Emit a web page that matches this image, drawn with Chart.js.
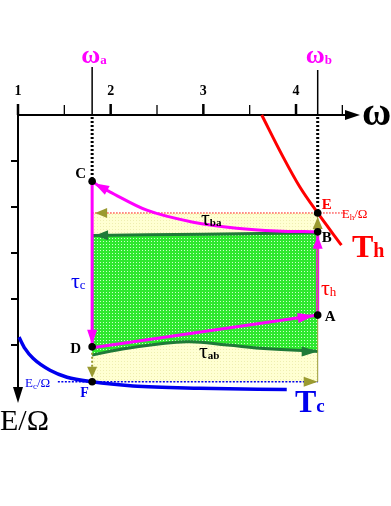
<!DOCTYPE html>
<html>
<head>
<meta charset="utf-8">
<script src="https://cdn.jsdelivr.net/npm/chart.js@4.4.1/dist/chart.umd.min.js"></script>
<style>
  html, body { margin: 0; padding: 0; background: #fff; }
  #wrap { width: 391px; height: 506px; position: relative; }
</style>
</head>
<body>
<div id="wrap"><canvas id="cycle"></canvas></div>
<script>
// ---- data ----
const xTicks = [1, 2, 3, 4];
const xMinorTicks = [1.5, 2.5, 3.5, 4.5];
const yTicks = [1, 2, 3, 4, 5];

const omegaA = 1.80;
const omegaB = 4.234;
const levelEh = 2.13;   // Eh/Omega
const levelEc = 5.80;   // Ec/Omega

const pointNames = ['C', 'E', 'B', 'A', 'D', 'F'];
const pointX = [1.80, 4.234, 4.234, 4.234, 1.80, 1.80];
const pointY = [1.44, 2.13, 2.54, 4.35, 5.04, 5.80];

// isotherm T_h (red) and T_c (blue)
const hotX = [3.63, 3.86, 4.04, 4.234, 4.49];
const hotY = [0, 0.91, 1.56, 2.13, 2.83];
const coldX = [1.011, 1.076, 1.162, 1.345, 1.529, 1.80, 2.24, 2.96, 3.90];
const coldY = [4.83, 5.08, 5.29, 5.55, 5.70, 5.80, 5.89, 5.94, 5.97];

// magenta path C <- B
const pathCBX = [1.80, 1.885, 1.99, 2.39, 2.89, 3.36, 3.79, 4.234];
const pathCBY = [1.44, 1.56, 1.67, 2.07, 2.33, 2.46, 2.52, 2.54];

// dark green boundaries of the green region
const greenTopX = [1.80, 3.0, 4.234];
const greenTopY = [2.62, 2.59, 2.56];
const greenBotX = [1.80, 2.18, 2.82, 3.26, 3.61, 4.234];
const greenBotY = [5.22, 5.07, 4.93, 5.00, 5.07, 5.14];

const ehLineX = [1.80, 4.53];
const ecLineX = [1.43, 4.234];

// ---- helpers ----
function pts(xs, ys) { return xs.map((x, i) => ({ x: x, y: ys[i] })); }
function P(name) { const i = pointNames.indexOf(name); return { x: pointX[i], y: pointY[i] }; }

function makePattern(base, dot) {
    const c = document.createElement('canvas');
    c.width = 3; c.height = 3;
    const g = c.getContext('2d');
    g.fillStyle = base; g.fillRect(0, 0, 3, 3);
    g.fillStyle = dot; g.fillRect(1, 1, 1, 1);
    return g.createPattern(c, 'repeat');
}
const greenFill = makePattern('#2ee82e', '#ccffcc');
const yellowFill = makePattern('#ffffd2', '#eeeeb0');

const MAGENTA = '#ff00ff', RED = '#ff0000', BLUE = '#0000ee', DKGREEN = '#1f7a38', OLIVE = '#9a9a30';
const SERIF = '"Liberation Serif", "DejaVu Serif", serif';

function arrow(ctx, fx, fy, tx, ty, len, half, color) {
    const a = Math.atan2(ty - fy, tx - fx);
    ctx.save();
    ctx.fillStyle = color;
    ctx.beginPath();
    ctx.moveTo(tx, ty);
    ctx.lineTo(tx - len * Math.cos(a) + half * Math.sin(a), ty - len * Math.sin(a) - half * Math.cos(a));
    ctx.lineTo(tx - len * Math.cos(a) - half * Math.sin(a), ty - len * Math.sin(a) + half * Math.cos(a));
    ctx.closePath();
    ctx.fill();
    ctx.restore();
}

function label(ctx, parts, x, y, color, align) {
    // parts: [[text, font, dy], ...]
    ctx.save();
    ctx.fillStyle = color;
    ctx.textBaseline = 'alphabetic';
    let total = 0;
    parts.forEach(p => { ctx.font = p[1]; total += ctx.measureText(p[0]).width; });
    let cx = x;
    if (align === 'center') cx = x - total / 2;
    if (align === 'right') cx = x - total;
    parts.forEach(p => {
        ctx.font = p[1];
        ctx.fillText(p[0], cx, y + (p[2] || 0));
        cx += ctx.measureText(p[0]).width;
    });
    ctx.restore();
}

const axesPlugin = {
    id: 'axesPlugin',
    beforeDatasetsDraw(chart) {
        const ctx = chart.ctx;
        const xs = chart.scales.x, ys = chart.scales.y;
        const x0 = xs.getPixelForValue(1), y0 = ys.getPixelForValue(0);
        const xEnd = xs.right, yEnd = ys.bottom;
        ctx.save();
        ctx.strokeStyle = '#000';
        ctx.lineWidth = 2;
        ctx.beginPath();
        ctx.moveTo(x0, y0); ctx.lineTo(xEnd - 10, y0);
        ctx.moveTo(x0, y0); ctx.lineTo(x0, yEnd - 10);
        ctx.stroke();
        arrow(ctx, x0, y0, xEnd + 2, y0, 15, 5, '#000');
        arrow(ctx, x0, y0, x0, yEnd + 1, 16, 5, '#000');

        xTicks.forEach(v => {
            const px = xs.getPixelForValue(v);
            ctx.lineWidth = 2.5;
            ctx.beginPath(); ctx.moveTo(px, y0 - 11); ctx.lineTo(px, y0); ctx.stroke();
            label(ctx, [[String(v), 'bold 14px ' + SERIF]], px, y0 - 20, '#000', 'center');
        });
        xMinorTicks.forEach(v => {
            const px = xs.getPixelForValue(v);
            ctx.lineWidth = 1.3;
            ctx.beginPath(); ctx.moveTo(px, y0 - 10); ctx.lineTo(px, y0); ctx.stroke();
        });
        yTicks.forEach(v => {
            const py = ys.getPixelForValue(v);
            ctx.lineWidth = 2;
            ctx.beginPath(); ctx.moveTo(x0 - 7, py); ctx.lineTo(x0, py); ctx.stroke();
        });

        // omega_a / omega_b markers
        const C = P('C'), E = P('E');
        [[omegaA, 67, C.y], [omegaB, 70, E.y]].forEach(m => {
            const px = xs.getPixelForValue(m[0]);
            ctx.lineWidth = 1.5;
            ctx.setLineDash([]);
            ctx.beginPath(); ctx.moveTo(px, m[1]); ctx.lineTo(px, y0); ctx.stroke();
            ctx.lineWidth = 3;
            ctx.setLineDash([2, 2]);
            ctx.beginPath(); ctx.moveTo(px, y0 + 2); ctx.lineTo(px, ys.getPixelForValue(m[2])); ctx.stroke();
        });
        ctx.setLineDash([]);
        ctx.restore();
    },
    afterDatasetsDraw(chart) {
        const ctx = chart.ctx;
        const xs = chart.scales.x, ys = chart.scales.y;
        const px = v => xs.getPixelForValue(v), py = v => ys.getPixelForValue(v);
        const pt = n => { const p = P(n); return { x: px(p.x), y: py(p.y) }; };
        const A = pt('A'), B = pt('B'), C = pt('C'), D = pt('D'), E = pt('E'), F = pt('F');

        // olive arrows of the yellow cycle
        ctx.save();
        ctx.strokeStyle = OLIVE; ctx.lineWidth = 2; ctx.setLineDash([2, 2]);
        ctx.beginPath(); ctx.moveTo(D.x, D.y + 6); ctx.lineTo(F.x, F.y - 6); ctx.stroke();
        ctx.setLineDash([]);
        ctx.lineWidth = 1;
        ctx.beginPath(); ctx.moveTo(px(omegaB), py(levelEh)); ctx.lineTo(px(omegaB), py(levelEc)); ctx.stroke();
        ctx.restore();
        arrow(ctx, D.x, D.y, F.x, F.y - 4, 11, 5, OLIVE);
        arrow(ctx, B.x, B.y, E.x, E.y + 4, 12, 5, OLIVE);
        arrow(ctx, E.x, E.y, px(omegaA) + 3, py(levelEh), 12, 5, OLIVE);
        arrow(ctx, F.x, F.y, px(omegaB), py(levelEc), 14, 5, OLIVE);

        // dark green arrows
        arrow(ctx, px(greenTopX[1]), py(greenTopY[1]), px(greenTopX[0]) + 3, py(greenTopY[0]), 13, 5, DKGREEN);
        const gb = greenBotX.length - 1;
        arrow(ctx, px(greenBotX[gb - 1]), py(greenBotY[gb]), px(greenBotX[gb]), py(greenBotY[gb]), 16, 5, DKGREEN);

        // magenta arrows
        arrow(ctx, px(pathCBX[2]), py(pathCBY[2]), C.x + 2, C.y + 2, 15, 5, MAGENTA);
        arrow(ctx, C.x, C.y, D.x, D.y - 2, 15, 5, MAGENTA);
        arrow(ctx, D.x, D.y, A.x - 3, A.y + 0.5, 17, 5, MAGENTA);
        arrow(ctx, A.x, A.y, B.x, B.y + 4, 13, 5, MAGENTA);

        // point dots
        [A, B, C, D, E, F].forEach(p => {
            ctx.fillStyle = '#000';
            ctx.beginPath(); ctx.arc(p.x, p.y, 3.8, 0, Math.PI * 2); ctx.fill();
        });

        // labels
        const b15 = 'bold 15px ' + SERIF;
        label(ctx, [['C', b15]], C.x - 6, C.y - 3, '#000', 'right');
        label(ctx, [['D', b15]], D.x - 11, D.y + 6, '#000', 'right');
        label(ctx, [['F', 'bold 14px ' + SERIF]], F.x - 12, F.y + 15, BLUE, 'left');
        label(ctx, [['E', b15]], E.x + 4, E.y - 4, RED, 'left');
        label(ctx, [['B', b15]], B.x + 4, B.y + 10, '#000', 'left');
        label(ctx, [['A', b15]], A.x + 7, A.y + 6, '#000', 'left');

        label(ctx, [['E', '13px ' + SERIF], ['h', '9px ' + SERIF, 2], ['/Ω', '13px ' + SERIF]], E.x + 24, E.y + 5, RED, 'left');
        label(ctx, [['E', '13px ' + SERIF], ['c', '9px ' + SERIF, 2], ['/Ω', '13px ' + SERIF]], 25, F.y + 5, BLUE, 'left');

        label(ctx, [['τ', '22px ' + SERIF], ['ba', 'bold 11px ' + SERIF, 1]], 201, 225, '#000', 'left');
        label(ctx, [['τ', '22px ' + SERIF], ['ab', 'bold 11px ' + SERIF, 1]], 199, 358, '#000', 'left');
        label(ctx, [['τ', '22px ' + SERIF], ['c', '13px ' + SERIF, 1]], 71, 288, BLUE, 'left');
        label(ctx, [['τ', '22px ' + SERIF], ['h', '13px ' + SERIF, 1]], 321, 295, RED, 'left');

        label(ctx, [['T', 'bold 32px ' + SERIF], ['h', 'bold 20px ' + SERIF]], 352, 257, RED, 'left');
        label(ctx, [['T', 'bold 32px ' + SERIF], ['c', 'bold 19px ' + SERIF]], 295, 412, BLUE, 'left');

        label(ctx, [['ω', 'bold 26px ' + SERIF], ['a', 'bold 13px ' + SERIF, 1]], px(omegaA) - 11, 63, MAGENTA, 'left');
        label(ctx, [['ω', 'bold 26px ' + SERIF], ['b', 'bold 13px ' + SERIF, 1]], px(omegaB) - 12, 63, MAGENTA, 'left');
        label(ctx, [['ω', 'bold 40px ' + SERIF]], 362, 125, '#000', 'left');
        label(ctx, [['E/Ω', '30px ' + SERIF]], 0, 430, '#000', 'left');
    }
};

const line = (data, color, width, extra) => Object.assign({
    data: data, borderColor: color, borderWidth: width, pointRadius: 0,
    fill: false, tension: 0, clip: false
}, extra || {});

new Chart(document.getElementById('cycle'), {
    type: 'line',
    data: {
        datasets: [
            line(pts([omegaA, omegaA], [pointY[0], pointY[4]]), MAGENTA, 3, { order: 1 }),
            line(pts([omegaB, omegaB], [pointY[3], pointY[2]]), MAGENTA, 3, { order: 1 }),
            line(pts([pointX[4], pointX[3]], [pointY[4] + 0.02, pointY[3]]), MAGENTA, 3, { order: 1 }),
            line(pts(pathCBX, pathCBY), MAGENTA, 3, { cubicInterpolationMode: 'monotone', order: 1 }),
            line(pts(hotX, hotY), RED, 3, { cubicInterpolationMode: 'monotone', order: 2 }),
            line(pts(coldX, coldY), BLUE, 3.5, { cubicInterpolationMode: 'monotone', order: 2 }),
            line(pts(ehLineX, [levelEh, levelEh]), RED, 1, { borderDash: [1.5, 1.5], order: 3 }),
            line(pts(ecLineX, [levelEc, levelEc]), BLUE, 1.5, { borderDash: [2, 1.5], order: 3 }),
            line(pts(greenTopX, greenTopY), DKGREEN, 3, { order: 4, tension: 0.3 }),
            line(pts(greenBotX, greenBotY), DKGREEN, 3, { order: 4, tension: 0.4, fill: '-1', backgroundColor: greenFill }),
            line(pts([omegaA, omegaB], [levelEh, levelEh]), 'rgba(0,0,0,0)', 0, { order: 6, fill: { value: levelEc }, backgroundColor: yellowFill })
        ]
    },
    options: {
        responsive: true,
        maintainAspectRatio: false,
        animation: false,
        layout: { padding: { left: 18, right: 33, top: 115, bottom: 104 } },
        scales: {
            x: { type: 'linear', min: 1, max: 1 + 340 / 92.67, display: false },
            y: { type: 'linear', min: 0, max: 287 / 46, reverse: true, display: false }
        },
        plugins: { legend: { display: false }, tooltip: { enabled: false } }
    },
    plugins: [axesPlugin]
});
</script>
</body>
</html>
